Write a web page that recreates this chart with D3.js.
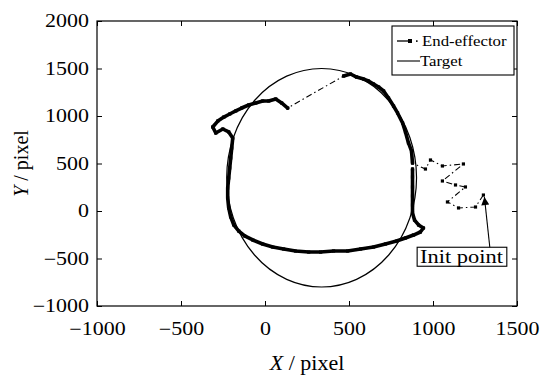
<!DOCTYPE html>
<html lang="en">
<head>
<meta charset="utf-8">
<title>End-effector trajectory</title>
<script src="https://cdn.jsdelivr.net/npm/d3@7"></script>
<style>
  body { margin: 0; background: #fff; }
  text { font-family: "Liberation Serif", "Times New Roman", serif; fill: #000; }
  .axis path { display: none; }
  .axis line { stroke: #000; stroke-width: 1; }
</style>
</head>
<body>
<script>
// axis ticks
var xTicks = [-1000, -500, 0, 500, 1000, 1500];
var yTicks = [-1000, -500, 0, 500, 1000, 1500, 2000];

// target circle (centre and radii, in pixel units of the camera)
var targetCenter = [337, 350];
var targetRadius = [565, 1150];

// end-effector: approach from the initial point to the target
var approachX = [1300, 1253, 1152, 1086, 1193, 1134, 1056, 1181, 1056, 985, 955, 878];
var approachY = [168, 42, 32, 95, 253, 274, 316, 495, 474, 537, 442, 505];

// end-effector: tracking along the target
var trackX = [878, 872, 854, 836, 819, 789, 765, 735, 706, 676, 646, 616, 587, 545, 509, 468,
  135, 99, 64, 22, -14, -55, -97, -139, -174, -210, -245, -281, -311, -293, -251, -216, -192,
  -198, -204, -210, -216, -222, -222, -216, -204, -186, -156, -121, -73, -14, 46, 111, 182,
  260, 331, 408, 492, 569, 646, 717, 783, 836, 884, 925, 943, 914, 890, 878, 878, 878, 878, 878, 878];
var trackY = [505, 632, 716, 832, 926, 1032, 1105, 1189, 1263, 1305, 1337, 1368, 1389, 1410, 1442, 1421,
  1084, 1137, 1179, 1158, 1158, 1137, 1116, 1084, 1053, 1021, 989, 947, 884, 821, 863, 832, 768,
  663, 558, 453, 347, 242, 137, 32, -63, -147, -211, -263, -305, -347, -379, -400, -421,
  -432, -432, -421, -421, -400, -379, -347, -316, -284, -253, -221, -179, -147, -95, -21, 63, 158, 253, 358, 442];

var initPoint = [1300, 168];
var initLabel = "Init point";
var initLabelPos = [1170, -480];

var legendNames = ["End-effector", "Target"];

var margin = { top: 21, right: 31, bottom: 70, left: 97 },
  width = 420,
  height = 285;

var x = d3.scaleLinear().domain([-1000, 1500]).range([0, width]);
var y = d3.scaleLinear().domain([-1000, 2000]).range([height, 0]);

var svg = d3.select("body").append("svg")
  .attr("width", 548)
  .attr("height", 376);

var g = svg.append("g")
  .attr("transform", "translate(" + margin.left + "," + margin.top + ")");

// stretch text horizontally like the source figure
function stretch(sel, k) {
  sel.each(function() {
    var w = this.getComputedTextLength();
    this.setAttribute("textLength", w * k);
    this.setAttribute("lengthAdjust", "spacingAndGlyphs");
  });
}

var fmt = function(d) { return d < 0 ? "\u2212" + Math.abs(d) : String(d); };

// axes with inward ticks on all four sides
var xAxis = g.append("g").attr("class", "axis")
  .attr("transform", "translate(0," + height + ")")
  .call(d3.axisBottom(x).tickValues(xTicks).tickFormat(fmt).tickSizeInner(-5).tickSizeOuter(0).tickPadding(16));
var yAxis = g.append("g").attr("class", "axis")
  .call(d3.axisLeft(y).tickValues(yTicks).tickFormat(fmt).tickSizeInner(-5).tickSizeOuter(0).tickPadding(8));
g.append("g").attr("class", "axis")
  .call(d3.axisTop(x).tickValues(xTicks).tickFormat("").tickSizeInner(-5).tickSizeOuter(0));
g.append("g").attr("class", "axis")
  .attr("transform", "translate(" + width + ",0)")
  .call(d3.axisRight(y).tickValues(yTicks).tickFormat("").tickSizeInner(-5).tickSizeOuter(0));

xAxis.selectAll("text").style("font-size", "18px").attr("dy", "0.7em");
yAxis.selectAll("text").style("font-size", "18px").attr("dy", "0.33em");
stretch(xAxis.selectAll("text"), 1.22);
stretch(yAxis.selectAll("text"), 1.22);

// frame
g.append("rect")
  .attr("width", width).attr("height", height)
  .attr("fill", "none").attr("stroke", "#000").attr("stroke-width", 1.2);

// target
g.append("ellipse")
  .attr("cx", x(targetCenter[0]))
  .attr("cy", y(targetCenter[1]))
  .attr("rx", x(targetCenter[0] + targetRadius[0]) - x(targetCenter[0]))
  .attr("ry", y(targetCenter[1]) - y(targetCenter[1] + targetRadius[1]))
  .attr("fill", "none").attr("stroke", "#000").attr("stroke-width", 1.2);

// end-effector
var approach = approachX.map(function(d, i) { return [d, approachY[i]]; });
var track = trackX.map(function(d, i) { return [d, trackY[i]]; });
var all = approach.concat(track.slice(1));

var line = d3.line().x(function(d) { return x(d[0]); }).y(function(d) { return y(d[1]); });

g.append("path")
  .datum(all)
  .attr("d", line)
  .attr("fill", "none").attr("stroke", "#000").attr("stroke-width", 1.1)
  .attr("stroke-dasharray", "6,3,1.5,3");

// dense stretches of the tracking part merge into a thick stroke
var runs = [], cur = [track[0]];
for (var i = 1; i < track.length; i++) {
  var a = track[i - 1], b = track[i];
  var dist = Math.hypot(x(b[0]) - x(a[0]), y(b[1]) - y(a[1]));
  if (dist < 30) { cur.push(b); }
  else { if (cur.length > 1) runs.push(cur); cur = [b]; }
}
if (cur.length > 1) runs.push(cur);

g.selectAll(".run")
  .data(runs)
  .enter().append("path")
  .attr("class", "run")
  .attr("d", line)
  .attr("fill", "none").attr("stroke", "#000").attr("stroke-width", 3.6)
  .attr("stroke-linejoin", "round").attr("stroke-linecap", "round");

g.selectAll(".mk")
  .data(all)
  .enter().append("rect")
  .attr("class", "mk")
  .attr("x", function(d) { return x(d[0]) - 1.6; })
  .attr("y", function(d) { return y(d[1]) - 1.6; })
  .attr("width", 3.2).attr("height", 3.2)
  .attr("fill", "#000");

// init point annotation
svg.append("defs").append("marker")
  .attr("id", "arrow")
  .attr("viewBox", "0 0 10 10")
  .attr("refX", 10).attr("refY", 5)
  .attr("markerWidth", 14).attr("markerHeight", 8)
  .attr("markerUnits", "userSpaceOnUse")
  .attr("orient", "auto")
  .append("path").attr("d", "M0,0L10,5L0,10z").attr("fill", "#000");

var lblBox = g.append("rect");
var lbl = g.append("text")
  .attr("x", x(initLabelPos[0]))
  .attr("y", y(initLabelPos[1]))
  .attr("text-anchor", "middle")
  .attr("dy", "0.35em")
  .style("font-size", "19px")
  .text(initLabel);
stretch(lbl, 1.18);
var bb = lbl.node().getBBox();
lblBox
  .attr("x", bb.x - 3).attr("y", bb.y + 1)
  .attr("width", bb.width + 6).attr("height", bb.height - 2)
  .attr("fill", "#fff").attr("stroke", "#000").attr("stroke-width", 1.1);

g.append("line")
  .attr("x1", bb.x + bb.width - 14).attr("y1", bb.y + 1)
  .attr("x2", x(initPoint[0]) + 1).attr("y2", y(initPoint[1]) + 2)
  .attr("stroke", "#000").attr("stroke-width", 1.1)
  .attr("marker-end", "url(#arrow)");

// legend
var leg = svg.append("g").attr("transform", "translate(392,26)");
leg.append("rect")
  .attr("width", 122).attr("height", 49)
  .attr("fill", "#fff").attr("stroke", "#000").attr("stroke-width", 1.1);
leg.append("line").attr("x1", 5).attr("x2", 18).attr("y1", 15).attr("y2", 15)
  .attr("stroke", "#000").attr("stroke-width", 1.3);
leg.append("rect").attr("x", 16).attr("y", 13).attr("width", 4).attr("height", 4).attr("fill", "#000");
leg.append("rect").attr("x", 24).attr("y", 14.3).attr("width", 1.6).attr("height", 1.6).attr("fill", "#000");
leg.append("line").attr("x1", 5).attr("x2", 28).attr("y1", 35).attr("y2", 35)
  .attr("stroke", "#000").attr("stroke-width", 1.1);
var lt = leg.selectAll(".lt")
  .data(legendNames)
  .enter().append("text")
  .attr("class", "lt")
  .attr("x", function(d, i) { return i === 0 ? 30 : 28; })
  .attr("y", function(d, i) { return 20 + i * 20; })
  .style("font-size", "15px")
  .text(function(d) { return d; });
stretch(lt, 1.12);

// axis titles
var xt = svg.append("text")
  .attr("x", margin.left + width / 2)
  .attr("y", 370)
  .attr("text-anchor", "middle")
  .style("font-size", "20px");
xt.append("tspan").style("font-style", "italic").text("X");
xt.append("tspan").text(" / pixel");
stretch(xt, 1.1);

var yt = svg.append("text")
  .attr("transform", "translate(28," + (margin.top + height / 2) + ") rotate(-90)")
  .attr("text-anchor", "middle")
  .style("font-size", "20px");
yt.append("tspan").style("font-style", "italic").text("Y");
yt.append("tspan").text(" / pixel");
</script>
</body>
</html>
